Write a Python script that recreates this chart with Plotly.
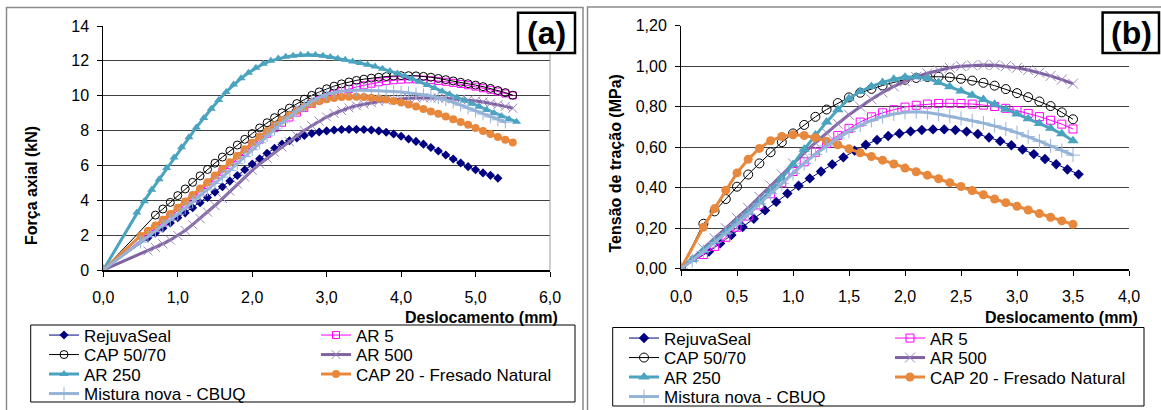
import plotly.graph_objects as go

W, H = 1161, 410
FONT = "Liberation Sans, Arial, sans-serif"

# ---------------- (a) Força axial x deslocamento ----------------
a_rejuva_x = [0, 0.6, 0.7, 0.8, 0.9, 1.0, 1.1, 1.2, 1.3, 1.4, 1.5, 1.6, 1.7, 1.8, 1.9, 2.0, 2.1, 2.2, 2.3, 2.4, 2.5,
              2.6, 2.7, 2.8, 2.9, 3.0, 3.1, 3.2, 3.3, 3.4, 3.5, 3.6, 3.7, 3.8, 3.9, 4.0, 4.1, 4.2, 4.3, 4.4, 4.5,
              4.6, 4.7, 4.8, 4.9, 5.0, 5.1, 5.2, 5.3]
a_rejuva_y = [0, 1.85, 2.12, 2.4, 2.7, 3.0, 3.28, 3.57, 3.86, 4.16, 4.47, 4.78, 5.1, 5.42, 5.75, 6.08, 6.38, 6.7,
              6.98, 7.22, 7.42, 7.58, 7.72, 7.83, 7.92, 7.98, 8.03, 8.06, 8.07, 8.07, 8.06, 8.03, 7.98, 7.9, 7.8,
              7.67, 7.52, 7.38, 7.22, 7.03, 6.83, 6.6, 6.37, 6.14, 5.93, 5.75, 5.57, 5.43, 5.27]

a_ar5_x = [0, 0.6, 0.7, 0.8, 0.9, 1.0, 1.1, 1.2, 1.3, 1.4, 1.5, 1.6, 1.7, 1.8, 1.9, 2.0, 2.1, 2.2, 2.3, 2.4, 2.5,
           2.6, 2.7, 2.8, 2.9, 3.0, 3.1, 3.2, 3.3, 3.4, 3.5, 3.6, 3.7, 3.8, 3.9, 4.0, 4.1, 4.2, 4.3, 4.4, 4.5,
           4.6, 4.7, 4.8, 4.9, 5.0, 5.1, 5.2, 5.3, 5.4, 5.5]
a_ar5_y = [0, 2.1, 2.4, 2.72, 3.05, 3.4, 3.76, 4.13, 4.5, 4.88, 5.26, 5.64, 6.02, 6.4, 6.77, 7.13, 7.48, 7.82,
           8.14, 8.45, 8.75, 9.03, 9.29, 9.53, 9.75, 9.94, 10.11, 10.26, 10.39, 10.5, 10.6, 10.69, 10.77, 10.84,
           10.89, 10.92, 10.94, 10.94, 10.92, 10.89, 10.85, 10.8, 10.74, 10.67, 10.6, 10.52, 10.43, 10.34,
           10.24, 10.13, 10.02]

a_cap5070_x = [0, 0.7, 0.8, 0.9, 1.0, 1.1, 1.2, 1.3, 1.4, 1.5, 1.6, 1.7, 1.8, 1.9, 2.0, 2.1, 2.2, 2.3, 2.4, 2.5,
               2.6, 2.7, 2.8, 2.9, 3.0, 3.1, 3.2, 3.3, 3.4, 3.5, 3.6, 3.7, 3.8, 3.9, 4.0, 4.1, 4.2, 4.3, 4.4, 4.5,
               4.6, 4.7, 4.8, 4.9, 5.0, 5.1, 5.2, 5.3, 5.4, 5.5]
a_cap5070_y = [0, 3.15, 3.5, 3.88, 4.27, 4.65, 5.03, 5.4, 5.77, 6.13, 6.48, 6.83, 7.17, 7.5, 7.83, 8.15, 8.45,
               8.74, 9.02, 9.29, 9.55, 9.8, 10.02, 10.22, 10.4, 10.55, 10.68, 10.79, 10.88, 10.95, 11.01, 11.06,
               11.1, 11.13, 11.15, 11.15, 11.14, 11.11, 11.06, 10.99, 10.92, 10.85, 10.77, 10.69, 10.61, 10.52,
               10.42, 10.3, 10.18, 10.03]

a_ar500_x = [0, 0.6, 0.7, 0.8, 0.9, 1.0, 1.1, 1.2, 1.3, 1.4, 1.5, 1.6, 1.7, 1.8, 1.9, 2.0, 2.1, 2.2, 2.3, 2.4, 2.5,
             2.6, 2.7, 2.8, 2.9, 3.0, 3.1, 3.2, 3.3, 3.4, 3.5, 3.6, 3.7, 3.8, 3.9, 4.0, 4.1, 4.2, 4.3, 4.4, 4.5,
             4.6, 4.7, 4.8, 4.9, 5.0, 5.1, 5.2, 5.3, 5.4, 5.5]
a_ar500_y = [0, 1.1, 1.3, 1.5, 1.72, 1.98, 2.27, 2.6, 2.95, 3.32, 3.7, 4.1, 4.52, 4.93, 5.33, 5.72, 6.08, 6.42,
             6.75, 7.06, 7.36, 7.7, 8.0, 8.28, 8.54, 8.78, 8.98, 9.15, 9.3, 9.42, 9.51, 9.6, 9.67, 9.73, 9.78,
             9.82, 9.85, 9.87, 9.88, 9.88, 9.87, 9.85, 9.82, 9.79, 9.75, 9.7, 9.64, 9.57, 9.49, 9.39, 9.28]

a_ar250_x = [0, 0.45, 0.55, 0.65, 0.75, 0.85, 0.95, 1.05, 1.15, 1.25, 1.35, 1.45, 1.55, 1.65, 1.75, 1.85, 1.95,
             2.05, 2.15, 2.25, 2.35, 2.45, 2.55, 2.65, 2.75, 2.85, 2.95, 3.05, 3.15, 3.25, 3.35, 3.45, 3.55, 3.65,
             3.75, 3.85, 3.95, 4.05, 4.15, 4.25, 4.35, 4.45, 4.55, 4.65, 4.75, 4.85, 4.95, 5.05, 5.15, 5.25,
             5.35, 5.45, 5.55]
a_ar250_y = [0, 3.3, 3.95, 4.6, 5.2, 5.85, 6.45, 7.05, 7.62, 8.18, 8.72, 9.25, 9.75, 10.22, 10.64, 11.0, 11.32,
             11.6, 11.83, 12.0, 12.13, 12.23, 12.3, 12.34, 12.35, 12.33, 12.29, 12.22, 12.14, 12.06, 11.97, 11.88,
             11.78, 11.67, 11.55, 11.42, 11.28, 11.13, 10.97, 10.8, 10.62, 10.44, 10.26, 10.08, 9.9, 9.72, 9.54,
             9.36, 9.18, 9.0, 8.82, 8.65, 8.5]

a_cap20_x = [0, 0.5, 0.6, 0.7, 0.8, 0.9, 1.0, 1.1, 1.2, 1.3, 1.4, 1.5, 1.6, 1.7, 1.8, 1.9, 2.0, 2.1, 2.2, 2.3, 2.4,
             2.5, 2.6, 2.7, 2.8, 2.9, 3.0, 3.1, 3.2, 3.3, 3.4, 3.5, 3.6, 3.7, 3.8, 3.9, 4.0, 4.1, 4.2, 4.3, 4.4,
             4.5, 4.6, 4.7, 4.8, 4.9, 5.0, 5.1, 5.2, 5.3, 5.4, 5.5]
a_cap20_y = [0, 1.95, 2.25, 2.55, 2.88, 3.22, 3.57, 3.93, 4.3, 4.67, 5.04, 5.42, 5.8, 6.18, 6.56, 6.93, 7.3, 7.65,
             7.98, 8.3, 8.6, 8.88, 9.13, 9.35, 9.53, 9.68, 9.79, 9.87, 9.92, 9.94, 9.94, 9.92, 9.89, 9.84, 9.78,
             9.7, 9.61, 9.5, 9.38, 9.24, 9.1, 8.96, 8.81, 8.65, 8.49, 8.33, 8.15, 7.97, 7.8, 7.63, 7.47, 7.32]

a_cbuq_x = [0, 0.5, 0.6, 0.7, 0.8, 0.9, 1.0, 1.1, 1.2, 1.3, 1.4, 1.5, 1.6, 1.7, 1.8, 1.9, 2.0, 2.1, 2.2, 2.3, 2.4,
            2.5, 2.6, 2.7, 2.8, 2.9, 3.0, 3.1, 3.2, 3.3, 3.4, 3.5, 3.6, 3.7, 3.8, 3.9, 4.0, 4.1, 4.2, 4.3, 4.4,
            4.5, 4.6, 4.7, 4.8, 4.9, 5.0, 5.1, 5.2, 5.3, 5.4]
a_cbuq_y = [0, 1.6, 1.9, 2.2, 2.52, 2.85, 3.2, 3.55, 3.9, 4.25, 4.6, 4.96, 5.33, 5.71, 6.1, 6.5, 6.9, 7.3, 7.7,
            8.08, 8.45, 8.8, 9.12, 9.42, 9.68, 9.9, 10.07, 10.19, 10.26, 10.3, 10.32, 10.32, 10.31, 10.29, 10.27,
            10.24, 10.21, 10.17, 10.12, 10.06, 9.98, 9.88, 9.76, 9.62, 9.46, 9.29, 9.12, 8.95, 8.78, 8.62, 8.48]

# ---------------- (b) Tensão de tração x deslocamento ----------------
b_rejuva_x = [0, 0.25, 0.35, 0.45, 0.55, 0.65, 0.75, 0.85, 0.95, 1.05, 1.15, 1.25, 1.35, 1.45, 1.55, 1.65, 1.75,
              1.85, 1.95, 2.05, 2.15, 2.25, 2.35, 2.45, 2.55, 2.65, 2.75, 2.85, 2.95, 3.05, 3.15, 3.25, 3.35,
              3.45, 3.55]
b_rejuva_y = [0, 0.085, 0.125, 0.166, 0.206, 0.247, 0.288, 0.33, 0.371, 0.41, 0.446, 0.48, 0.515, 0.55, 0.583,
              0.612, 0.636, 0.655, 0.668, 0.678, 0.685, 0.688, 0.688, 0.685, 0.677, 0.665, 0.648, 0.63, 0.61,
              0.589, 0.566, 0.542, 0.516, 0.49, 0.466]

b_ar5_x = [0, 0.2, 0.3, 0.4, 0.5, 0.6, 0.7, 0.8, 0.9, 1.0, 1.1, 1.2, 1.3, 1.4, 1.5, 1.6, 1.7, 1.8, 1.9, 2.0, 2.1,
           2.2, 2.3, 2.4, 2.5, 2.6, 2.7, 2.8, 2.9, 3.0, 3.1, 3.2, 3.3, 3.4, 3.5]
b_ar5_y = [0, 0.07, 0.11, 0.155, 0.205, 0.26, 0.315, 0.37, 0.425, 0.48, 0.528, 0.575, 0.618, 0.658, 0.693,
           0.724, 0.75, 0.77, 0.785, 0.798, 0.807, 0.813, 0.816, 0.817, 0.816, 0.813, 0.808, 0.801, 0.792,
           0.781, 0.767, 0.751, 0.733, 0.714, 0.69]

b_cap5070_x = [0, 0.2, 0.3, 0.4, 0.5, 0.6, 0.7, 0.8, 0.9, 1.0, 1.1, 1.2, 1.3, 1.4, 1.5, 1.6, 1.7, 1.8, 1.9, 2.0,
               2.1, 2.2, 2.3, 2.4, 2.5, 2.6, 2.7, 2.8, 2.9, 3.0, 3.1, 3.2, 3.3, 3.4, 3.5]
b_cap5070_y = [0, 0.222, 0.283, 0.344, 0.405, 0.465, 0.52, 0.575, 0.625, 0.668, 0.71, 0.75, 0.786, 0.818,
               0.846, 0.869, 0.888, 0.905, 0.92, 0.933, 0.942, 0.947, 0.948, 0.945, 0.938, 0.929, 0.918, 0.904,
               0.887, 0.867, 0.847, 0.826, 0.803, 0.772, 0.738]

b_ar500_x = [0, 0.1, 0.2, 0.3, 0.4, 0.5, 0.6, 0.7, 0.8, 0.9, 1.0, 1.1, 1.2, 1.3, 1.4, 1.5, 1.6, 1.7, 1.8, 1.9,
             2.0, 2.1, 2.2, 2.3, 2.4, 2.5, 2.6, 2.7, 2.8, 2.9, 3.0, 3.1, 3.2, 3.3, 3.4, 3.5]
b_ar500_y = [0, 0.05, 0.1, 0.15, 0.2, 0.25, 0.3, 0.355, 0.41, 0.465, 0.52, 0.572, 0.622, 0.67, 0.716, 0.76,
             0.8, 0.837, 0.87, 0.9, 0.925, 0.947, 0.965, 0.98, 0.992, 1.0, 1.004, 1.006, 1.005, 1.0, 0.992,
             0.981, 0.968, 0.952, 0.934, 0.914]

b_ar250_x = [0, 0.1, 0.2, 0.3, 0.4, 0.5, 0.6, 0.7, 0.8, 0.9, 1.0, 1.1, 1.2, 1.3, 1.4, 1.5, 1.6, 1.7, 1.8, 1.9,
             2.0, 2.1, 2.2, 2.3, 2.4, 2.5, 2.6, 2.7, 2.8, 2.9, 3.0, 3.1, 3.2, 3.3, 3.4, 3.5]
b_ar250_y = [0, 0.045, 0.09, 0.135, 0.18, 0.228, 0.278, 0.33, 0.385, 0.447, 0.515, 0.59, 0.66, 0.725, 0.785,
             0.84, 0.875, 0.9, 0.92, 0.936, 0.946, 0.948, 0.94, 0.92, 0.898, 0.877, 0.857, 0.835, 0.812, 0.788,
             0.764, 0.74, 0.717, 0.693, 0.666, 0.632]

b_cap20_x = [0, 0.2, 0.3, 0.4, 0.5, 0.6, 0.7, 0.8, 0.9, 1.0, 1.1, 1.2, 1.3, 1.4, 1.5, 1.6, 1.7, 1.8, 1.9, 2.0,
             2.1, 2.2, 2.3, 2.4, 2.5, 2.6, 2.7, 2.8, 2.9, 3.0, 3.1, 3.2, 3.3, 3.4, 3.5]
b_cap20_y = [0, 0.205, 0.297, 0.388, 0.473, 0.54, 0.594, 0.632, 0.653, 0.661, 0.658, 0.647, 0.63, 0.612, 0.592,
             0.572, 0.554, 0.536, 0.517, 0.497, 0.479, 0.462, 0.444, 0.425, 0.406, 0.386, 0.365, 0.344, 0.326,
             0.308, 0.29, 0.272, 0.254, 0.236, 0.219]

b_cbuq_x = [0, 0.1, 0.2, 0.3, 0.4, 0.5, 0.6, 0.7, 0.8, 0.9, 1.0, 1.1, 1.2, 1.3, 1.4, 1.5, 1.6, 1.7, 1.8, 1.9,
            2.0, 2.1, 2.2, 2.3, 2.4, 2.5, 2.6, 2.7, 2.8, 2.9, 3.0, 3.1, 3.2, 3.3, 3.4, 3.5]
b_cbuq_y = [0, 0.04, 0.085, 0.13, 0.175, 0.22, 0.27, 0.32, 0.37, 0.42, 0.47, 0.52, 0.565, 0.607, 0.645, 0.678,
            0.708, 0.732, 0.751, 0.764, 0.772, 0.775, 0.771, 0.763, 0.753, 0.742, 0.731, 0.719, 0.706, 0.69,
            0.672, 0.652, 0.63, 0.607, 0.584, 0.561]

names = ["RejuvaSeal", "AR 5", "CAP 50/70", "AR 500", "AR 250", "CAP 20 - Fresado Natural", "Mistura nova - CBUQ"]

a_data = [(a_rejuva_x, a_rejuva_y), (a_ar5_x, a_ar5_y), (a_cap5070_x, a_cap5070_y), (a_ar500_x, a_ar500_y),
          (a_ar250_x, a_ar250_y), (a_cap20_x, a_cap20_y), (a_cbuq_x, a_cbuq_y)]
b_data = [(b_rejuva_x, b_rejuva_y), (b_ar5_x, b_ar5_y), (b_cap5070_x, b_cap5070_y), (b_ar500_x, b_ar500_y),
          (b_ar250_x, b_ar250_y), (b_cap20_x, b_cap20_y), (b_cbuq_x, b_cbuq_y)]

# line colour, line width, marker symbol, marker colour, marker size (a), (b), marker line width
styles = [
    ("#000080", 1, "diamond", "#000080", 7, 8, 0),
    ("#FF00FF", 1, "square-open", "#FF00FF", 7, 8, 1),
    ("#000000", 1, "circle-open", "#000000", 8, 9, 1),
    ("#7F62A1", 3, "x-thin-open", "#9B86BE", 9, 10, 1),
    ("#4AA3BF", 3, "triangle-up", "#4AA3BF", 8, 10, 0),
    ("#E8883C", 3, "circle", "#E8883C", 8, 9, 0),
    ("#95B3D7", 3, "cross-thin-open", "#95B3D7", 9, 10, 1),
]


def px(v):
    return v / W


def py(v):
    return 1 - v / H


fig = go.Figure()

# legend rows: (a) -> legend..legend4, (b) -> legend5..legend8
row_of = [0, 0, 1, 1, 2, 2, 3]
for panel, data, xa, ya, base in [("a", a_data, "x", "y", 0), ("b", b_data, "x2", "y2", 4)]:
    for i, (xs, ys) in enumerate(data):
        lc, lw, sym, mc, sa, sb, mlw = styles[i]
        lg = "legend" if base + row_of[i] == 0 else "legend%d" % (base + row_of[i] + 1)
        fig.add_trace(go.Scatter(
            x=xs, y=ys, name=names[i], mode="lines+markers", xaxis=xa, yaxis=ya, legend=lg,
            line=dict(color=lc, width=lw),
            marker=dict(symbol=sym, color=mc, size=sa if panel == "a" else sb,
                        line=dict(color=mc, width=mlw)),
        ))

axis_common = dict(showline=True, linecolor="black", ticks="outside", ticklen=5, tickwidth=1,
                   tickcolor="black", tickfont=dict(family=FONT, size=16, color="black"), zeroline=False)
xcommon = dict(showgrid=False, linewidth=2, ticklabelstandoff=7, **axis_common)
ycommon = dict(showgrid=True, gridcolor="#404040", gridwidth=1, linewidth=1, ticklabelstandoff=5, **axis_common)

fig.update_layout(
    width=W, height=H, margin=dict(l=0, r=0, t=0, b=0, autoexpand=False),
    paper_bgcolor="white", plot_bgcolor="white", separators=",.",
    font=dict(family=FONT, color="black"),
    xaxis=dict(domain=[px(103.3), px(550)], range=[0, 6], dtick=1, tickformat=".1f", anchor="y", **xcommon),
    yaxis=dict(domain=[py(270), py(26)], range=[0, 14], dtick=2, tickformat="d", anchor="x", **ycommon),
    xaxis2=dict(domain=[px(681), px(1129)], range=[0, 4], dtick=0.5, tickformat=".1f", anchor="y2", **xcommon),
    yaxis2=dict(domain=[py(268.7), py(25.7)], range=[0, 1.2], dtick=0.2, tickformat=".2f", anchor="x2",
                **ycommon),
)

# legends, one per row so the rows sit as tight as in the original
leg_rows = {0: [335.5, 355, 374.5, 394], 4: [338.5, 358, 377.5, 397]}
leg_x = {0: 44, 4: 624}
leg_w = {0: 227, 4: 221}
for base in (0, 4):
    for r in range(4):
        key = "legend" if base + r == 0 else "legend%d" % (base + r + 1)
        fig.update_layout({key: dict(
            orientation="h", x=px(leg_x[base]), xanchor="left", y=py(leg_rows[base][r]), yanchor="middle",
            entrywidth=leg_w[base], entrywidthmode="pixels", itemwidth=30, bgcolor="rgba(0,0,0,0)",
            borderwidth=0, font=dict(family=FONT, size=17, color="black"), traceorder="normal",
        )})

shapes = [
    # panel borders
    dict(type="rect", xref="paper", yref="paper", x0=px(6.5), x1=px(583), y0=py(420), y1=py(7.5),
         line=dict(color="#8a8a8a", width=1.5)),
    dict(type="rect", xref="paper", yref="paper", x0=px(587.5), x1=px(1175), y0=py(420), y1=py(7),
         line=dict(color="#8a8a8a", width=1.5)),
    # right border of plot area (a)
    dict(type="line", xref="x domain", yref="y domain", x0=1, x1=1, y0=0, y1=1,
         line=dict(color="#9a9a9a", width=1)),
    # legend boxes
    dict(type="rect", xref="paper", yref="paper", x0=px(30.7), x1=px(575), y0=py(402), y1=py(325),
         line=dict(color="black", width=1)),
    dict(type="rect", xref="paper", yref="paper", x0=px(612.7), x1=px(1144), y0=py(406), y1=py(327.5),
         line=dict(color="black", width=1)),
    # (a) / (b) boxes
    dict(type="rect", xref="paper", yref="paper", x0=px(518), x1=px(575), y0=py(53), y1=py(12.7),
         line=dict(color="black", width=2.5), fillcolor="white"),
    dict(type="rect", xref="paper", yref="paper", x0=px(1102.6), x1=px(1159), y0=py(53), y1=py(12.5),
         line=dict(color="black", width=2.5), fillcolor="white"),
]
fig.update_layout(shapes=shapes)

bold = dict(family=FONT, size=16, color="black", weight="bold")
ann = [
    dict(text="Deslocamento (mm)", x=px(560), y=py(317), xanchor="right", yanchor="middle", font=bold),
    dict(text="Deslocamento (mm)", x=px(1140), y=py(317), xanchor="right", yanchor="middle", font=bold),
    dict(text="Força axial (kN)", x=px(32), y=py(186), textangle=-90, xanchor="center", yanchor="middle",
         font=bold),
    dict(text="Tensão de tração (MPa)", x=px(615), y=py(163.5), textangle=-90, xanchor="center",
         yanchor="middle", font=bold),
    dict(text="(a)", x=px(546.5), y=py(33), xanchor="center", yanchor="middle",
         font=dict(family=FONT, size=32, color="black", weight="bold")),
    dict(text="(b)", x=px(1131), y=py(33), xanchor="center", yanchor="middle",
         font=dict(family=FONT, size=32, color="black", weight="bold")),
]
for a in ann:
    a.update(xref="paper", yref="paper", showarrow=False)
fig.update_layout(annotations=ann)

# the page body has a default 8px margin; drop it so the figure starts at the window corner
fig.write_html("out.html", config={"displayModeBar": False},
               post_script="document.body.style.margin='0px';")
